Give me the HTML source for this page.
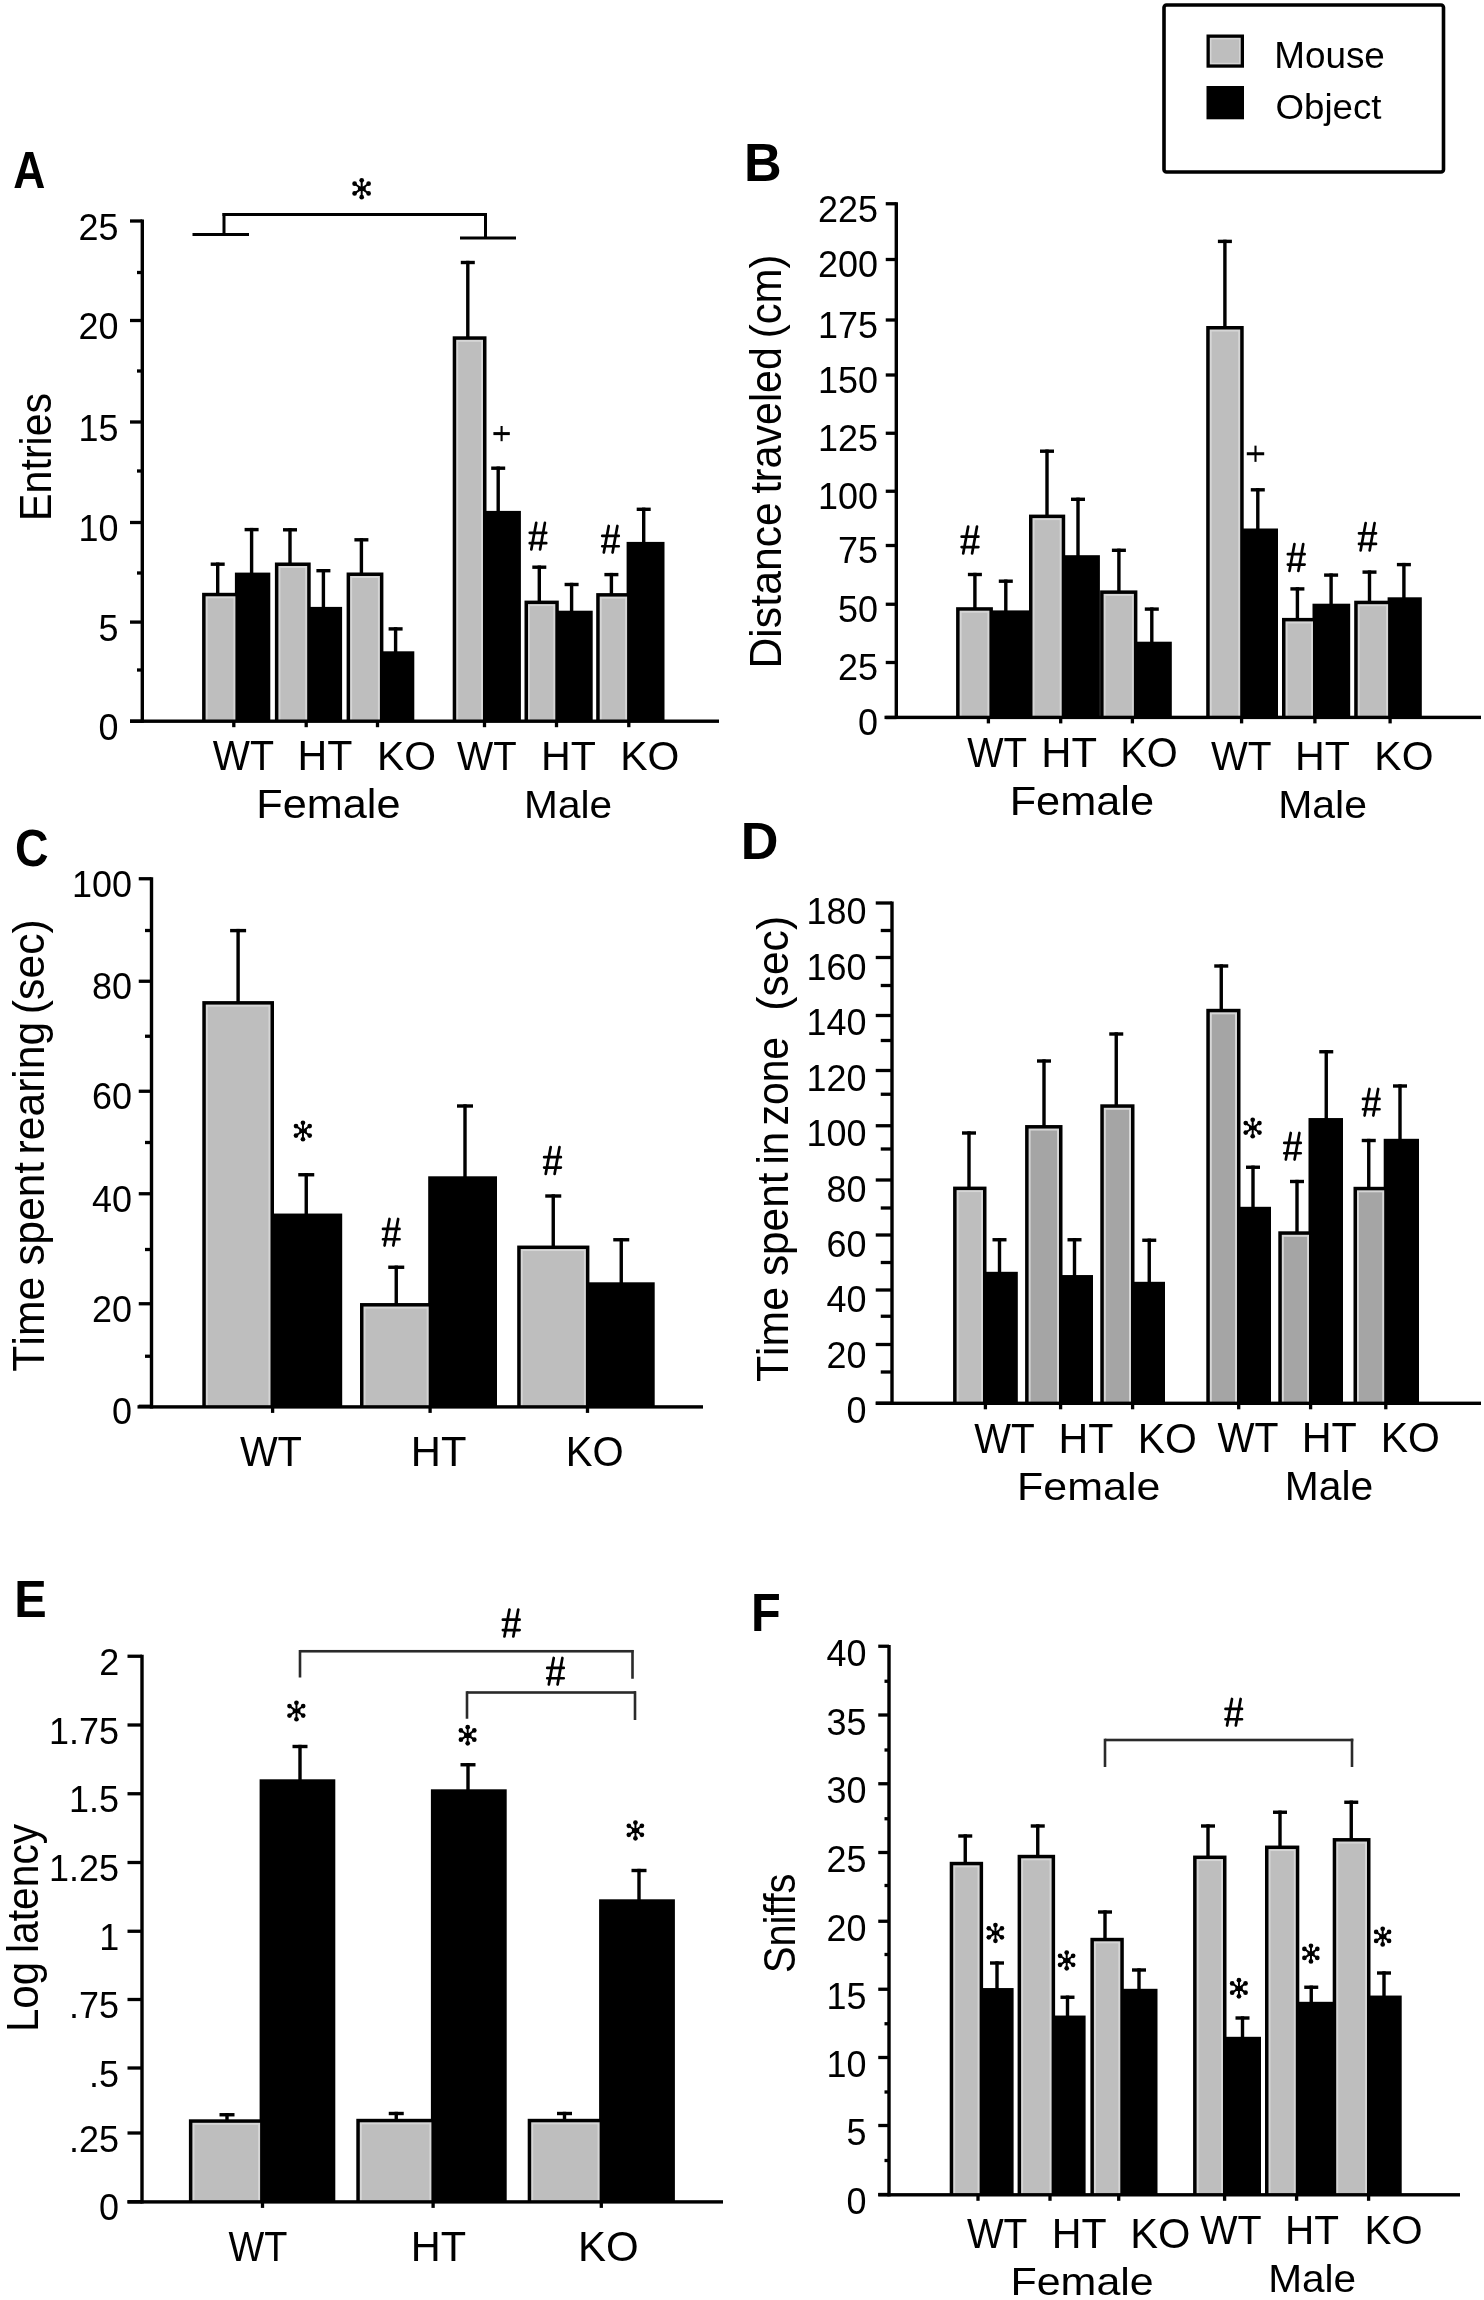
<!DOCTYPE html>
<html><head><meta charset="utf-8"><title>Figure</title>
<style>
html,body{margin:0;padding:0;background:#fff;}
svg{display:block;}
text{font-family:"Liberation Sans",sans-serif;font-kerning:none;white-space:pre;}
svg{filter:grayscale(1);}
</style></head>
<body>
<svg xmlns="http://www.w3.org/2000/svg" width="1484" height="2300" viewBox="0 0 1484 2300">
<rect x="0" y="0" width="1484" height="2300" fill="#fff"/>
<rect x="1164" y="5" width="279.5" height="167" rx="2.5" fill="none" stroke="#000" stroke-width="3.6"/>
<rect x="1206.50" y="34.50" width="37.50" height="33.20" fill="#000"/>
<rect x="1209.80" y="37.80" width="30.90" height="26.60" fill="#d6d6d6"/>
<rect x="1211.40" y="39.40" width="27.70" height="23.40" fill="#bebebe"/>
<rect x="1206.50" y="86.00" width="37.50" height="33.30" fill="#000"/>
<text transform="translate(1274.23 67.62) scale(0.9765 1)" font-size="37.76" font-weight="normal" fill="#000">Mouse</text>
<text transform="translate(1275.51 119.22) scale(1.0232 1)" font-size="35.85" font-weight="normal" fill="#000">Object</text>
<text transform="translate(13.29 187.80) scale(0.8442 1)" font-size="52.62" font-weight="bold" fill="#000">A</text>
<rect x="234.90" y="572.60" width="35.40" height="148.60" fill="#000"/>
<rect x="202.10" y="592.80" width="36.80" height="128.40" fill="#000"/>
<rect x="205.60" y="596.30" width="29.80" height="124.90" fill="#d6d6d6"/>
<rect x="207.60" y="598.30" width="25.80" height="122.90" fill="#bebebe"/>
<rect x="306.70" y="606.90" width="35.40" height="114.30" fill="#000"/>
<rect x="274.90" y="562.50" width="35.80" height="158.70" fill="#000"/>
<rect x="278.40" y="566.00" width="28.80" height="155.20" fill="#d6d6d6"/>
<rect x="280.40" y="568.00" width="24.80" height="153.20" fill="#bebebe"/>
<rect x="379.40" y="651.30" width="34.90" height="69.90" fill="#000"/>
<rect x="346.60" y="572.50" width="36.80" height="148.70" fill="#000"/>
<rect x="350.10" y="576.00" width="29.80" height="145.20" fill="#d6d6d6"/>
<rect x="352.10" y="578.00" width="25.80" height="143.20" fill="#bebebe"/>
<rect x="482.50" y="510.90" width="38.40" height="210.30" fill="#000"/>
<rect x="452.70" y="336.30" width="33.80" height="384.90" fill="#000"/>
<rect x="456.20" y="339.80" width="26.80" height="381.40" fill="#d6d6d6"/>
<rect x="458.20" y="341.80" width="22.80" height="379.40" fill="#bebebe"/>
<rect x="554.80" y="610.70" width="37.90" height="110.50" fill="#000"/>
<rect x="524.50" y="600.60" width="34.30" height="120.60" fill="#000"/>
<rect x="528.00" y="604.10" width="27.30" height="117.10" fill="#d6d6d6"/>
<rect x="530.00" y="606.10" width="23.30" height="115.10" fill="#bebebe"/>
<rect x="626.60" y="541.90" width="37.90" height="179.30" fill="#000"/>
<rect x="596.20" y="593.10" width="34.40" height="128.10" fill="#000"/>
<rect x="599.70" y="596.60" width="27.40" height="124.60" fill="#d6d6d6"/>
<rect x="601.70" y="598.60" width="23.40" height="122.60" fill="#bebebe"/>
<rect x="216.00" y="562.50" width="3.40" height="31.30" fill="#000"/>
<rect x="210.70" y="562.50" width="14.00" height="3.40" fill="#000"/>
<rect x="249.90" y="527.90" width="3.40" height="45.70" fill="#000"/>
<rect x="244.60" y="527.90" width="14.00" height="3.40" fill="#000"/>
<rect x="288.30" y="528.10" width="3.40" height="35.40" fill="#000"/>
<rect x="283.00" y="528.10" width="14.00" height="3.40" fill="#000"/>
<rect x="321.70" y="569.00" width="3.40" height="38.90" fill="#000"/>
<rect x="316.40" y="569.00" width="14.00" height="3.40" fill="#000"/>
<rect x="359.70" y="538.10" width="3.40" height="35.40" fill="#000"/>
<rect x="354.40" y="538.10" width="14.00" height="3.40" fill="#000"/>
<rect x="393.90" y="627.20" width="3.40" height="25.10" fill="#000"/>
<rect x="388.60" y="627.20" width="14.00" height="3.40" fill="#000"/>
<rect x="466.10" y="260.80" width="3.40" height="76.50" fill="#000"/>
<rect x="460.80" y="260.80" width="14.00" height="3.40" fill="#000"/>
<rect x="496.50" y="466.50" width="3.40" height="45.40" fill="#000"/>
<rect x="491.20" y="466.50" width="14.00" height="3.40" fill="#000"/>
<rect x="537.60" y="565.50" width="3.40" height="36.10" fill="#000"/>
<rect x="532.30" y="565.50" width="14.00" height="3.40" fill="#000"/>
<rect x="569.90" y="582.80" width="3.40" height="28.90" fill="#000"/>
<rect x="564.60" y="582.80" width="14.00" height="3.40" fill="#000"/>
<rect x="609.70" y="572.90" width="3.40" height="21.20" fill="#000"/>
<rect x="604.40" y="572.90" width="14.00" height="3.40" fill="#000"/>
<rect x="642.00" y="507.60" width="3.40" height="35.30" fill="#000"/>
<rect x="636.70" y="507.60" width="14.00" height="3.40" fill="#000"/>
<rect x="140.60" y="219.50" width="3.40" height="503.30" fill="#000"/>
<rect x="130.00" y="719.50" width="589.00" height="3.40" fill="#000"/>
<rect x="130.00" y="219.35" width="12.30" height="3.30" fill="#000"/>
<rect x="130.00" y="318.85" width="12.30" height="3.30" fill="#000"/>
<rect x="130.00" y="420.35" width="12.30" height="3.30" fill="#000"/>
<rect x="130.00" y="520.85" width="12.30" height="3.30" fill="#000"/>
<rect x="130.00" y="620.45" width="12.30" height="3.30" fill="#000"/>
<rect x="130.00" y="719.55" width="12.30" height="3.30" fill="#000"/>
<rect x="137.00" y="270.85" width="5.30" height="3.30" fill="#000"/>
<rect x="137.00" y="369.35" width="5.30" height="3.30" fill="#000"/>
<rect x="137.00" y="469.35" width="5.30" height="3.30" fill="#000"/>
<rect x="137.00" y="571.35" width="5.30" height="3.30" fill="#000"/>
<rect x="137.00" y="668.35" width="5.30" height="3.30" fill="#000"/>
<rect x="232.15" y="721.20" width="3.30" height="6.00" fill="#000"/>
<rect x="304.55" y="721.20" width="3.30" height="6.00" fill="#000"/>
<rect x="375.85" y="721.20" width="3.30" height="6.00" fill="#000"/>
<rect x="482.85" y="721.20" width="3.30" height="6.00" fill="#000"/>
<rect x="554.85" y="721.20" width="3.30" height="6.00" fill="#000"/>
<rect x="627.15" y="721.20" width="3.30" height="6.00" fill="#000"/>
<text transform="translate(78.52 239.75) scale(0.9700 1)" font-size="37.06">25</text>
<text transform="translate(78.41 339.25) scale(0.9700 1)" font-size="37.06">20</text>
<text transform="translate(78.52 440.75) scale(0.9700 1)" font-size="37.06">15</text>
<text transform="translate(78.41 541.25) scale(0.9700 1)" font-size="37.06">10</text>
<text transform="translate(98.51 640.75) scale(0.9700 1)" font-size="37.06">5</text>
<text transform="translate(98.41 739.75) scale(0.9700 1)" font-size="37.06">0</text>
<text transform="translate(212.73 769.90) scale(0.9351 1)" font-size="42.15" font-weight="normal" fill="#000">WT</text>
<text transform="translate(297.62 769.90) scale(0.9775 1)" font-size="42.15" font-weight="normal" fill="#000">HT</text>
<text transform="translate(376.94 769.90) scale(0.9851 1)" font-size="41.53" font-weight="normal" fill="#000">KO</text>
<text transform="translate(456.93 769.70) scale(0.9262 1)" font-size="41.43" font-weight="normal" fill="#000">WT</text>
<text transform="translate(541.02 769.70) scale(0.9947 1)" font-size="41.43" font-weight="normal" fill="#000">HT</text>
<text transform="translate(620.24 769.70) scale(1.0024 1)" font-size="40.82" font-weight="normal" fill="#000">KO</text>
<text transform="translate(256.25 818.10) scale(1.0493 1)" font-size="41.26" font-weight="normal" fill="#000">Female</text>
<text transform="translate(524.07 817.90) scale(1.0437 1)" font-size="38.92" font-weight="normal" fill="#000">Male</text>
<text transform="translate(51.00 520.88) rotate(-90) scale(0.9347 1)" font-size="44.04">Entries</text>
<rect x="192.50" y="233.00" width="56.50" height="3.00" fill="#000"/>
<rect x="222.50" y="213.00" width="3.00" height="21.50" fill="#000"/>
<rect x="222.50" y="213.00" width="264.50" height="3.00" fill="#000"/>
<rect x="484.00" y="213.00" width="3.00" height="25.00" fill="#000"/>
<rect x="460.00" y="236.50" width="56.00" height="3.00" fill="#000"/>
<path d="M361.70 188.70L361.70 180.30M361.70 188.70L361.70 197.20M361.70 188.70L354.60 183.70M361.70 188.70L368.60 183.70M361.70 188.70L354.60 193.40M361.70 188.70L368.60 193.40" stroke="#000" stroke-width="2.0" stroke-linecap="round" fill="none"/>
<circle cx="361.70" cy="180.30" r="2.35" fill="#000"/>
<circle cx="361.70" cy="197.20" r="2.35" fill="#000"/>
<circle cx="354.60" cy="183.70" r="2.35" fill="#000"/>
<circle cx="368.60" cy="183.70" r="2.35" fill="#000"/>
<circle cx="354.60" cy="193.40" r="2.35" fill="#000"/>
<circle cx="368.60" cy="193.40" r="2.35" fill="#000"/>
<rect x="357.90" y="186.60" width="7.80" height="4.00" fill="#000"/>
<rect x="493.40" y="432.10" width="16.40" height="3.00" fill="#000"/>
<rect x="500.55" y="426.00" width="2.10" height="15.20" fill="#000"/>
<path d="M536.24 522.87L531.31 549.43M544.89 522.87L540.06 549.43M529.75 532.87L546.25 532.87M529.75 543.14L546.25 543.14" stroke="#000" stroke-width="2.7" stroke-linecap="round" fill="none"/>
<path d="M608.74 525.97L603.81 552.53M617.39 525.97L612.56 552.53M602.25 535.97L618.75 535.97M602.25 546.24L618.75 546.24" stroke="#000" stroke-width="2.7" stroke-linecap="round" fill="none"/>
<text transform="translate(743.91 181.00) scale(0.9696 1)" font-size="53.78" font-weight="bold" fill="#000">B</text>
<rect x="988.90" y="610.40" width="40.10" height="107.00" fill="#000"/>
<rect x="956.10" y="607.20" width="36.80" height="110.20" fill="#000"/>
<rect x="959.60" y="610.70" width="29.80" height="106.70" fill="#d6d6d6"/>
<rect x="961.60" y="612.70" width="25.80" height="104.70" fill="#bebebe"/>
<rect x="1061.20" y="555.20" width="38.70" height="162.20" fill="#000"/>
<rect x="1029.00" y="514.60" width="36.20" height="202.80" fill="#000"/>
<rect x="1032.50" y="518.10" width="29.20" height="199.30" fill="#d6d6d6"/>
<rect x="1034.50" y="520.10" width="25.20" height="197.30" fill="#bebebe"/>
<rect x="1133.40" y="641.70" width="38.40" height="75.70" fill="#000"/>
<rect x="1100.10" y="590.40" width="37.30" height="127.00" fill="#000"/>
<rect x="1103.60" y="593.90" width="30.30" height="123.50" fill="#d6d6d6"/>
<rect x="1105.60" y="595.90" width="26.30" height="121.50" fill="#bebebe"/>
<rect x="1239.70" y="528.50" width="38.30" height="188.90" fill="#000"/>
<rect x="1206.20" y="326.00" width="37.50" height="391.40" fill="#000"/>
<rect x="1209.70" y="329.50" width="30.50" height="387.90" fill="#d6d6d6"/>
<rect x="1211.70" y="331.50" width="26.50" height="385.90" fill="#bebebe"/>
<rect x="1312.50" y="603.70" width="37.70" height="113.70" fill="#000"/>
<rect x="1282.00" y="617.90" width="34.50" height="99.50" fill="#000"/>
<rect x="1285.50" y="621.40" width="27.50" height="96.00" fill="#d6d6d6"/>
<rect x="1287.50" y="623.40" width="23.50" height="94.00" fill="#bebebe"/>
<rect x="1387.60" y="597.30" width="34.20" height="120.10" fill="#000"/>
<rect x="1354.20" y="600.70" width="37.40" height="116.70" fill="#000"/>
<rect x="1357.70" y="604.20" width="30.40" height="113.20" fill="#d6d6d6"/>
<rect x="1359.70" y="606.20" width="26.40" height="111.20" fill="#bebebe"/>
<rect x="973.20" y="572.80" width="3.40" height="35.40" fill="#000"/>
<rect x="967.90" y="572.80" width="14.00" height="3.40" fill="#000"/>
<rect x="1004.10" y="579.50" width="3.40" height="31.90" fill="#000"/>
<rect x="998.80" y="579.50" width="14.00" height="3.40" fill="#000"/>
<rect x="1045.30" y="449.50" width="3.40" height="66.10" fill="#000"/>
<rect x="1040.00" y="449.50" width="14.00" height="3.40" fill="#000"/>
<rect x="1076.30" y="497.60" width="3.40" height="58.60" fill="#000"/>
<rect x="1071.00" y="497.60" width="14.00" height="3.40" fill="#000"/>
<rect x="1117.20" y="548.60" width="3.40" height="42.80" fill="#000"/>
<rect x="1111.90" y="548.60" width="14.00" height="3.40" fill="#000"/>
<rect x="1150.10" y="607.40" width="3.40" height="35.30" fill="#000"/>
<rect x="1144.80" y="607.40" width="14.00" height="3.40" fill="#000"/>
<rect x="1223.20" y="239.70" width="3.40" height="87.30" fill="#000"/>
<rect x="1217.90" y="239.70" width="14.00" height="3.40" fill="#000"/>
<rect x="1256.10" y="488.10" width="3.40" height="41.40" fill="#000"/>
<rect x="1250.80" y="488.10" width="14.00" height="3.40" fill="#000"/>
<rect x="1295.70" y="587.20" width="3.40" height="31.70" fill="#000"/>
<rect x="1290.40" y="587.20" width="14.00" height="3.40" fill="#000"/>
<rect x="1329.40" y="573.40" width="3.40" height="31.30" fill="#000"/>
<rect x="1324.10" y="573.40" width="14.00" height="3.40" fill="#000"/>
<rect x="1367.80" y="570.40" width="3.40" height="31.30" fill="#000"/>
<rect x="1362.50" y="570.40" width="14.00" height="3.40" fill="#000"/>
<rect x="1402.20" y="562.90" width="3.40" height="35.40" fill="#000"/>
<rect x="1396.90" y="562.90" width="14.00" height="3.40" fill="#000"/>
<rect x="894.60" y="202.25" width="3.40" height="516.75" fill="#000"/>
<rect x="884.50" y="715.70" width="596.50" height="3.40" fill="#000"/>
<rect x="885.75" y="202.10" width="10.75" height="3.30" fill="#000"/>
<rect x="885.75" y="257.85" width="10.75" height="3.30" fill="#000"/>
<rect x="885.75" y="318.35" width="10.75" height="3.30" fill="#000"/>
<rect x="885.75" y="373.35" width="10.75" height="3.30" fill="#000"/>
<rect x="885.75" y="431.60" width="10.75" height="3.30" fill="#000"/>
<rect x="885.75" y="489.60" width="10.75" height="3.30" fill="#000"/>
<rect x="885.75" y="543.85" width="10.75" height="3.30" fill="#000"/>
<rect x="885.75" y="602.60" width="10.75" height="3.30" fill="#000"/>
<rect x="885.75" y="660.85" width="10.75" height="3.30" fill="#000"/>
<rect x="885.75" y="715.85" width="10.75" height="3.30" fill="#000"/>
<rect x="986.75" y="717.40" width="3.30" height="6.00" fill="#000"/>
<rect x="1059.05" y="717.40" width="3.30" height="6.00" fill="#000"/>
<rect x="1130.75" y="717.40" width="3.30" height="6.00" fill="#000"/>
<rect x="1239.95" y="717.40" width="3.30" height="6.00" fill="#000"/>
<rect x="1313.25" y="717.40" width="3.30" height="6.00" fill="#000"/>
<rect x="1388.45" y="717.40" width="3.30" height="6.00" fill="#000"/>
<text transform="translate(818.02 221.70) scale(0.9700 1)" font-size="37.06">225</text>
<text transform="translate(817.92 277.45) scale(0.9700 1)" font-size="37.06">200</text>
<text transform="translate(818.02 337.95) scale(0.9700 1)" font-size="37.06">175</text>
<text transform="translate(817.92 392.95) scale(0.9700 1)" font-size="37.06">150</text>
<text transform="translate(818.02 451.20) scale(0.9700 1)" font-size="37.06">125</text>
<text transform="translate(817.92 509.20) scale(0.9700 1)" font-size="37.06">100</text>
<text transform="translate(838.02 563.45) scale(0.9700 1)" font-size="37.06">75</text>
<text transform="translate(837.91 622.20) scale(0.9700 1)" font-size="37.06">50</text>
<text transform="translate(838.02 680.45) scale(0.9700 1)" font-size="37.06">25</text>
<text transform="translate(857.91 735.45) scale(0.9700 1)" font-size="37.06">0</text>
<text transform="translate(967.13 766.70) scale(0.8948 1)" font-size="43.02" font-weight="normal" fill="#000">WT</text>
<text transform="translate(1041.37 766.70) scale(0.9728 1)" font-size="43.02" font-weight="normal" fill="#000">HT</text>
<text transform="translate(1120.34 766.70) scale(0.9382 1)" font-size="42.39" font-weight="normal" fill="#000">KO</text>
<text transform="translate(1210.93 769.70) scale(0.9404 1)" font-size="41.43" font-weight="normal" fill="#000">WT</text>
<text transform="translate(1295.02 769.70) scale(0.9947 1)" font-size="41.43" font-weight="normal" fill="#000">HT</text>
<text transform="translate(1374.34 769.70) scale(1.0024 1)" font-size="40.82" font-weight="normal" fill="#000">KO</text>
<text transform="translate(1009.65 815.30) scale(1.0819 1)" font-size="40.02" font-weight="normal" fill="#000">Female</text>
<text transform="translate(1278.14 817.90) scale(1.0537 1)" font-size="38.92" font-weight="normal" fill="#000">Male</text>
<text transform="translate(781.10 668.51) rotate(-90) scale(0.9648 1)" font-size="44.33">Distance</text>
<text transform="translate(781.10 493.62) rotate(-90) scale(0.9287 1)" font-size="44.33">traveled</text>
<text transform="translate(781.10 338.30) rotate(-90) scale(0.9456 1)" font-size="44.33">(cm)</text>
<path d="M968.21 526.50L963.20 553.50M977.00 526.50L972.10 553.50M961.62 536.67L978.38 536.67M961.62 547.10L978.38 547.10" stroke="#000" stroke-width="2.7" stroke-linecap="round" fill="none"/>
<path d="M1294.46 544.00L1289.45 571.00M1303.25 544.00L1298.35 571.00M1287.87 554.17L1304.63 554.17M1287.87 564.60L1304.63 564.60" stroke="#000" stroke-width="2.7" stroke-linecap="round" fill="none"/>
<path d="M1365.68 523.04L1360.60 550.46M1374.61 523.04L1369.63 550.46M1358.99 533.37L1376.01 533.37M1358.99 543.97L1376.01 543.97" stroke="#000" stroke-width="2.7" stroke-linecap="round" fill="none"/>
<rect x="1246.80" y="452.25" width="17.40" height="3.00" fill="#000"/>
<rect x="1254.45" y="445.65" width="2.10" height="16.20" fill="#000"/>
<text transform="translate(14.89 866.00) scale(0.9069 1)" font-size="51.27" font-weight="bold" fill="#000">C</text>
<rect x="270.00" y="1213.55" width="72.20" height="193.35" fill="#000"/>
<rect x="202.30" y="1001.10" width="71.70" height="405.80" fill="#000"/>
<rect x="205.80" y="1004.60" width="64.70" height="402.30" fill="#d6d6d6"/>
<rect x="207.80" y="1006.60" width="60.70" height="400.30" fill="#bebebe"/>
<rect x="428.20" y="1176.30" width="68.80" height="230.60" fill="#000"/>
<rect x="360.00" y="1303.05" width="72.20" height="103.85" fill="#000"/>
<rect x="363.50" y="1306.55" width="65.20" height="100.35" fill="#d6d6d6"/>
<rect x="365.50" y="1308.55" width="61.20" height="98.35" fill="#bebebe"/>
<rect x="585.40" y="1282.30" width="69.30" height="124.60" fill="#000"/>
<rect x="517.20" y="1245.55" width="72.20" height="161.35" fill="#000"/>
<rect x="520.70" y="1249.05" width="65.20" height="157.85" fill="#d6d6d6"/>
<rect x="522.70" y="1251.05" width="61.20" height="155.85" fill="#bebebe"/>
<rect x="236.40" y="928.90" width="3.40" height="73.20" fill="#000"/>
<rect x="230.10" y="928.90" width="16.00" height="3.40" fill="#000"/>
<rect x="304.55" y="1173.05" width="3.40" height="41.50" fill="#000"/>
<rect x="298.25" y="1173.05" width="16.00" height="3.40" fill="#000"/>
<rect x="394.55" y="1265.55" width="3.40" height="38.50" fill="#000"/>
<rect x="388.25" y="1265.55" width="16.00" height="3.40" fill="#000"/>
<rect x="463.30" y="1104.30" width="3.40" height="73.00" fill="#000"/>
<rect x="457.00" y="1104.30" width="16.00" height="3.40" fill="#000"/>
<rect x="551.55" y="1194.30" width="3.40" height="52.25" fill="#000"/>
<rect x="545.25" y="1194.30" width="16.00" height="3.40" fill="#000"/>
<rect x="619.55" y="1238.05" width="3.40" height="45.25" fill="#000"/>
<rect x="613.25" y="1238.05" width="16.00" height="3.40" fill="#000"/>
<rect x="149.80" y="877.25" width="3.40" height="531.25" fill="#000"/>
<rect x="137.50" y="1405.20" width="565.50" height="3.40" fill="#000"/>
<rect x="138.75" y="877.10" width="12.75" height="3.30" fill="#000"/>
<rect x="138.75" y="979.60" width="12.75" height="3.30" fill="#000"/>
<rect x="138.75" y="1089.60" width="12.75" height="3.30" fill="#000"/>
<rect x="138.75" y="1192.10" width="12.75" height="3.30" fill="#000"/>
<rect x="138.75" y="1302.10" width="12.75" height="3.30" fill="#000"/>
<rect x="138.75" y="1404.60" width="12.75" height="3.30" fill="#000"/>
<rect x="145.00" y="928.85" width="6.50" height="3.30" fill="#000"/>
<rect x="145.00" y="1034.60" width="6.50" height="3.30" fill="#000"/>
<rect x="145.00" y="1140.85" width="6.50" height="3.30" fill="#000"/>
<rect x="145.00" y="1247.85" width="6.50" height="3.30" fill="#000"/>
<rect x="145.00" y="1354.60" width="6.50" height="3.30" fill="#000"/>
<rect x="270.95" y="1406.90" width="3.30" height="6.00" fill="#000"/>
<rect x="428.45" y="1406.90" width="3.30" height="6.00" fill="#000"/>
<rect x="585.85" y="1406.90" width="3.30" height="6.00" fill="#000"/>
<text transform="translate(71.92 896.50) scale(0.9700 1)" font-size="37.06">100</text>
<text transform="translate(91.91 999.00) scale(0.9700 1)" font-size="37.06">80</text>
<text transform="translate(91.91 1109.00) scale(0.9700 1)" font-size="37.06">60</text>
<text transform="translate(91.91 1211.50) scale(0.9700 1)" font-size="37.06">40</text>
<text transform="translate(91.91 1321.50) scale(0.9700 1)" font-size="37.06">20</text>
<text transform="translate(111.91 1424.00) scale(0.9700 1)" font-size="37.06">0</text>
<text transform="translate(239.92 1466.00) scale(0.9221 1)" font-size="43.31" font-weight="normal" fill="#000">WT</text>
<text transform="translate(410.87 1466.00) scale(0.9644 1)" font-size="43.31" font-weight="normal" fill="#000">HT</text>
<text transform="translate(565.71 1466.00) scale(0.9391 1)" font-size="42.68" font-weight="normal" fill="#000">KO</text>
<text transform="translate(44.00 1371.66) rotate(-90) scale(0.9597 1)" font-size="44.48">Time</text>
<text transform="translate(44.00 1265.58) rotate(-90) scale(0.9521 1)" font-size="44.48">spent</text>
<text transform="translate(44.00 1154.43) rotate(-90) scale(0.9583 1)" font-size="44.48">rearing</text>
<text transform="translate(44.00 1014.15) rotate(-90) scale(0.9601 1)" font-size="44.48">(sec)</text>
<path d="M302.95 1130.95L302.95 1122.74M302.95 1130.95L302.95 1139.26M302.95 1130.95L296.01 1126.06M302.95 1130.95L309.69 1126.06M302.95 1130.95L296.01 1135.54M302.95 1130.95L309.69 1135.54" stroke="#000" stroke-width="2.0" stroke-linecap="round" fill="none"/>
<circle cx="302.95" cy="1122.74" r="2.35" fill="#000"/>
<circle cx="302.95" cy="1139.26" r="2.35" fill="#000"/>
<circle cx="296.01" cy="1126.06" r="2.35" fill="#000"/>
<circle cx="309.69" cy="1126.06" r="2.35" fill="#000"/>
<circle cx="296.01" cy="1135.54" r="2.35" fill="#000"/>
<circle cx="309.69" cy="1135.54" r="2.35" fill="#000"/>
<rect x="299.24" y="1128.90" width="7.62" height="3.91" fill="#000"/>
<path d="M389.49 1218.97L384.56 1245.53M398.14 1218.97L393.31 1245.53M383.00 1228.97L399.50 1228.97M383.00 1239.24L399.50 1239.24" stroke="#000" stroke-width="2.7" stroke-linecap="round" fill="none"/>
<path d="M550.71 1147.00L545.70 1174.00M559.50 1147.00L554.60 1174.00M544.12 1157.17L560.88 1157.17M544.12 1167.60L560.88 1167.60" stroke="#000" stroke-width="2.7" stroke-linecap="round" fill="none"/>
<text transform="translate(740.71 859.40) scale(0.9917 1)" font-size="52.62" font-weight="bold" fill="#000">D</text>
<rect x="982.50" y="1271.80" width="35.30" height="131.50" fill="#000"/>
<rect x="953.10" y="1186.60" width="33.40" height="216.70" fill="#000"/>
<rect x="956.60" y="1190.10" width="26.40" height="213.20" fill="#d6d6d6"/>
<rect x="958.60" y="1192.10" width="22.40" height="211.20" fill="#bebebe"/>
<rect x="1058.50" y="1275.05" width="34.50" height="128.25" fill="#000"/>
<rect x="1025.10" y="1125.05" width="37.40" height="278.25" fill="#000"/>
<rect x="1028.60" y="1128.55" width="30.40" height="274.75" fill="#d6d6d6"/>
<rect x="1030.60" y="1130.55" width="26.40" height="272.75" fill="#a5a5a5"/>
<rect x="1130.50" y="1281.80" width="34.50" height="121.50" fill="#000"/>
<rect x="1100.30" y="1104.30" width="34.20" height="299.00" fill="#000"/>
<rect x="1103.80" y="1107.80" width="27.20" height="295.50" fill="#d6d6d6"/>
<rect x="1105.80" y="1109.80" width="23.20" height="293.50" fill="#a5a5a5"/>
<rect x="1236.50" y="1206.80" width="34.50" height="196.50" fill="#000"/>
<rect x="1206.30" y="1008.80" width="34.20" height="394.50" fill="#000"/>
<rect x="1209.80" y="1012.30" width="27.20" height="391.00" fill="#d6d6d6"/>
<rect x="1211.80" y="1014.30" width="23.20" height="389.00" fill="#a5a5a5"/>
<rect x="1308.50" y="1118.05" width="34.50" height="285.25" fill="#000"/>
<rect x="1278.30" y="1231.30" width="34.20" height="172.00" fill="#000"/>
<rect x="1281.80" y="1234.80" width="27.20" height="168.50" fill="#d6d6d6"/>
<rect x="1283.80" y="1236.80" width="23.20" height="166.50" fill="#a5a5a5"/>
<rect x="1383.70" y="1138.80" width="35.30" height="264.50" fill="#000"/>
<rect x="1353.50" y="1186.80" width="34.20" height="216.50" fill="#000"/>
<rect x="1357.00" y="1190.30" width="27.20" height="213.00" fill="#d6d6d6"/>
<rect x="1359.00" y="1192.30" width="23.20" height="211.00" fill="#a5a5a5"/>
<rect x="967.30" y="1131.30" width="3.40" height="56.30" fill="#000"/>
<rect x="962.00" y="1131.30" width="14.00" height="3.40" fill="#000"/>
<rect x="997.80" y="1238.05" width="3.40" height="34.75" fill="#000"/>
<rect x="992.50" y="1238.05" width="14.00" height="3.40" fill="#000"/>
<rect x="1042.30" y="1059.30" width="3.40" height="66.75" fill="#000"/>
<rect x="1037.00" y="1059.30" width="14.00" height="3.40" fill="#000"/>
<rect x="1072.80" y="1238.05" width="3.40" height="38.00" fill="#000"/>
<rect x="1067.50" y="1238.05" width="14.00" height="3.40" fill="#000"/>
<rect x="1114.55" y="1032.30" width="3.40" height="73.00" fill="#000"/>
<rect x="1109.25" y="1032.30" width="14.00" height="3.40" fill="#000"/>
<rect x="1147.55" y="1238.55" width="3.40" height="44.25" fill="#000"/>
<rect x="1142.25" y="1238.55" width="14.00" height="3.40" fill="#000"/>
<rect x="1219.55" y="964.30" width="3.40" height="45.50" fill="#000"/>
<rect x="1214.25" y="964.30" width="14.00" height="3.40" fill="#000"/>
<rect x="1251.30" y="1165.55" width="3.40" height="42.25" fill="#000"/>
<rect x="1246.00" y="1165.55" width="14.00" height="3.40" fill="#000"/>
<rect x="1295.30" y="1179.80" width="3.40" height="52.50" fill="#000"/>
<rect x="1290.00" y="1179.80" width="14.00" height="3.40" fill="#000"/>
<rect x="1324.55" y="1050.05" width="3.40" height="69.00" fill="#000"/>
<rect x="1319.25" y="1050.05" width="14.00" height="3.40" fill="#000"/>
<rect x="1367.05" y="1138.80" width="3.40" height="49.00" fill="#000"/>
<rect x="1361.75" y="1138.80" width="14.00" height="3.40" fill="#000"/>
<rect x="1398.30" y="1084.30" width="3.40" height="55.50" fill="#000"/>
<rect x="1393.00" y="1084.30" width="14.00" height="3.40" fill="#000"/>
<rect x="890.30" y="901.50" width="3.40" height="503.40" fill="#000"/>
<rect x="875.75" y="1401.60" width="605.25" height="3.40" fill="#000"/>
<rect x="875.75" y="901.35" width="16.25" height="3.30" fill="#000"/>
<rect x="875.75" y="955.85" width="16.25" height="3.30" fill="#000"/>
<rect x="875.75" y="1013.85" width="16.25" height="3.30" fill="#000"/>
<rect x="875.75" y="1068.85" width="16.25" height="3.30" fill="#000"/>
<rect x="875.75" y="1124.10" width="16.25" height="3.30" fill="#000"/>
<rect x="875.75" y="1178.35" width="16.25" height="3.30" fill="#000"/>
<rect x="875.75" y="1233.35" width="16.25" height="3.30" fill="#000"/>
<rect x="875.75" y="1288.35" width="16.25" height="3.30" fill="#000"/>
<rect x="875.75" y="1342.85" width="16.25" height="3.30" fill="#000"/>
<rect x="875.75" y="1401.60" width="16.25" height="3.30" fill="#000"/>
<rect x="880.75" y="928.85" width="11.25" height="3.30" fill="#000"/>
<rect x="880.75" y="983.85" width="11.25" height="3.30" fill="#000"/>
<rect x="880.75" y="1038.85" width="11.25" height="3.30" fill="#000"/>
<rect x="880.75" y="1092.60" width="11.25" height="3.30" fill="#000"/>
<rect x="880.75" y="1147.35" width="11.25" height="3.30" fill="#000"/>
<rect x="880.75" y="1206.35" width="11.25" height="3.30" fill="#000"/>
<rect x="880.75" y="1260.85" width="11.25" height="3.30" fill="#000"/>
<rect x="880.75" y="1314.60" width="11.25" height="3.30" fill="#000"/>
<rect x="880.75" y="1370.35" width="11.25" height="3.30" fill="#000"/>
<rect x="983.75" y="1403.30" width="3.30" height="6.00" fill="#000"/>
<rect x="1058.95" y="1403.30" width="3.30" height="6.00" fill="#000"/>
<rect x="1130.95" y="1403.30" width="3.30" height="6.00" fill="#000"/>
<rect x="1237.05" y="1403.30" width="3.30" height="6.00" fill="#000"/>
<rect x="1308.95" y="1403.30" width="3.30" height="6.00" fill="#000"/>
<rect x="1384.15" y="1403.30" width="3.30" height="6.00" fill="#000"/>
<text transform="translate(806.42 924.25) scale(0.9700 1)" font-size="37.06">180</text>
<text transform="translate(806.42 979.71) scale(0.9700 1)" font-size="37.06">160</text>
<text transform="translate(806.42 1035.17) scale(0.9700 1)" font-size="37.06">140</text>
<text transform="translate(806.42 1090.63) scale(0.9700 1)" font-size="37.06">120</text>
<text transform="translate(806.42 1146.09) scale(0.9700 1)" font-size="37.06">100</text>
<text transform="translate(826.41 1201.55) scale(0.9700 1)" font-size="37.06">80</text>
<text transform="translate(826.41 1257.01) scale(0.9700 1)" font-size="37.06">60</text>
<text transform="translate(826.41 1312.47) scale(0.9700 1)" font-size="37.06">40</text>
<text transform="translate(826.41 1367.93) scale(0.9700 1)" font-size="37.06">20</text>
<text transform="translate(846.41 1423.39) scale(0.9700 1)" font-size="37.06">0</text>
<text transform="translate(974.33 1452.80) scale(0.8979 1)" font-size="43.31" font-weight="normal" fill="#000">WT</text>
<text transform="translate(1058.42 1452.80) scale(0.9513 1)" font-size="43.31" font-weight="normal" fill="#000">HT</text>
<text transform="translate(1137.74 1452.80) scale(0.9587 1)" font-size="42.68" font-weight="normal" fill="#000">KO</text>
<text transform="translate(1217.43 1452.30) scale(0.9131 1)" font-size="43.02" font-weight="normal" fill="#000">WT</text>
<text transform="translate(1301.71 1452.30) scale(0.9615 1)" font-size="43.02" font-weight="normal" fill="#000">HT</text>
<text transform="translate(1380.84 1452.30) scale(0.9651 1)" font-size="42.39" font-weight="normal" fill="#000">KO</text>
<text transform="translate(1017.07 1500.00) scale(1.0929 1)" font-size="39.33" font-weight="normal" fill="#000">Female</text>
<text transform="translate(1284.75 1500.30) scale(1.0269 1)" font-size="39.75" font-weight="normal" fill="#000">Male</text>
<text transform="translate(787.60 1382.06) rotate(-90) scale(0.9660 1)" font-size="44.33">Time</text>
<text transform="translate(787.60 1276.08) rotate(-90) scale(0.9552 1)" font-size="44.33">spent</text>
<text transform="translate(787.60 1164.51) rotate(-90) scale(0.9491 1)" font-size="44.33">in</text>
<text transform="translate(787.60 1125.46) rotate(-90) scale(0.9213 1)" font-size="44.33">zone</text>
<text transform="translate(787.60 1010.65) rotate(-90) scale(0.9622 1)" font-size="44.33">(sec)</text>
<path d="M1252.70 1127.95L1252.70 1119.74M1252.70 1127.95L1252.70 1136.26M1252.70 1127.95L1245.76 1123.06M1252.70 1127.95L1259.44 1123.06M1252.70 1127.95L1245.76 1132.54M1252.70 1127.95L1259.44 1132.54" stroke="#000" stroke-width="2.0" stroke-linecap="round" fill="none"/>
<circle cx="1252.70" cy="1119.74" r="2.35" fill="#000"/>
<circle cx="1252.70" cy="1136.26" r="2.35" fill="#000"/>
<circle cx="1245.76" cy="1123.06" r="2.35" fill="#000"/>
<circle cx="1259.44" cy="1123.06" r="2.35" fill="#000"/>
<circle cx="1245.76" cy="1132.54" r="2.35" fill="#000"/>
<circle cx="1259.44" cy="1132.54" r="2.35" fill="#000"/>
<rect x="1248.99" y="1125.90" width="7.62" height="3.91" fill="#000"/>
<path d="M1290.74 1132.97L1285.81 1159.53M1299.39 1132.97L1294.56 1159.53M1284.25 1142.97L1300.75 1142.97M1284.25 1153.24L1300.75 1153.24" stroke="#000" stroke-width="2.7" stroke-linecap="round" fill="none"/>
<path d="M1369.49 1088.97L1364.56 1115.53M1378.14 1088.97L1373.31 1115.53M1363.00 1098.97L1379.50 1098.97M1363.00 1109.24L1379.50 1109.24" stroke="#000" stroke-width="2.7" stroke-linecap="round" fill="none"/>
<text transform="translate(14.34 1616.80) scale(0.9248 1)" font-size="52.62" font-weight="bold" fill="#000">E</text>
<rect x="259.60" y="1779.30" width="75.70" height="422.60" fill="#000"/>
<rect x="188.90" y="2119.30" width="74.70" height="82.60" fill="#000"/>
<rect x="192.40" y="2122.80" width="67.70" height="79.10" fill="#d6d6d6"/>
<rect x="194.40" y="2124.80" width="63.70" height="77.10" fill="#bebebe"/>
<rect x="430.90" y="1789.30" width="75.80" height="412.60" fill="#000"/>
<rect x="356.30" y="2118.80" width="78.60" height="83.10" fill="#000"/>
<rect x="359.80" y="2122.30" width="71.60" height="79.60" fill="#d6d6d6"/>
<rect x="361.80" y="2124.30" width="67.60" height="77.60" fill="#bebebe"/>
<rect x="599.10" y="1899.30" width="75.80" height="302.60" fill="#000"/>
<rect x="527.70" y="2118.80" width="75.40" height="83.10" fill="#000"/>
<rect x="531.20" y="2122.30" width="68.40" height="79.60" fill="#d6d6d6"/>
<rect x="533.20" y="2124.30" width="64.40" height="77.60" fill="#bebebe"/>
<rect x="225.30" y="2113.05" width="3.40" height="7.25" fill="#000"/>
<rect x="219.50" y="2113.05" width="15.00" height="3.40" fill="#000"/>
<rect x="298.30" y="1744.80" width="3.40" height="35.50" fill="#000"/>
<rect x="292.50" y="1744.80" width="15.00" height="3.40" fill="#000"/>
<rect x="394.55" y="2111.80" width="3.40" height="8.00" fill="#000"/>
<rect x="388.75" y="2111.80" width="15.00" height="3.40" fill="#000"/>
<rect x="466.30" y="1763.05" width="3.40" height="27.25" fill="#000"/>
<rect x="460.50" y="1763.05" width="15.00" height="3.40" fill="#000"/>
<rect x="562.80" y="2111.80" width="3.40" height="8.00" fill="#000"/>
<rect x="557.00" y="2111.80" width="15.00" height="3.40" fill="#000"/>
<rect x="637.30" y="1868.80" width="3.40" height="31.50" fill="#000"/>
<rect x="631.50" y="1868.80" width="15.00" height="3.40" fill="#000"/>
<rect x="140.30" y="1654.75" width="3.40" height="548.75" fill="#000"/>
<rect x="127.50" y="2200.20" width="595.50" height="3.40" fill="#000"/>
<rect x="127.50" y="1654.60" width="14.50" height="3.30" fill="#000"/>
<rect x="127.50" y="1723.35" width="14.50" height="3.30" fill="#000"/>
<rect x="127.50" y="1792.10" width="14.50" height="3.30" fill="#000"/>
<rect x="127.50" y="1860.85" width="14.50" height="3.30" fill="#000"/>
<rect x="127.50" y="1929.60" width="14.50" height="3.30" fill="#000"/>
<rect x="127.50" y="1997.85" width="14.50" height="3.30" fill="#000"/>
<rect x="127.50" y="2066.35" width="14.50" height="3.30" fill="#000"/>
<rect x="127.50" y="2131.35" width="14.50" height="3.30" fill="#000"/>
<rect x="127.50" y="2200.10" width="14.50" height="3.30" fill="#000"/>
<rect x="260.85" y="2201.90" width="3.30" height="6.00" fill="#000"/>
<rect x="431.45" y="2201.90" width="3.30" height="6.00" fill="#000"/>
<rect x="599.65" y="2201.90" width="3.30" height="6.00" fill="#000"/>
<text transform="translate(99.31 1674.80) scale(0.9700 1)" font-size="37.06">2</text>
<text transform="translate(49.04 1743.55) scale(0.9700 1)" font-size="37.06">1.75</text>
<text transform="translate(69.03 1812.30) scale(0.9700 1)" font-size="37.06">1.5</text>
<text transform="translate(49.04 1881.05) scale(0.9700 1)" font-size="37.06">1.25</text>
<text transform="translate(99.26 1949.80) scale(0.9700 1)" font-size="37.06">1</text>
<text transform="translate(69.03 2018.05) scale(0.9700 1)" font-size="37.06">.75</text>
<text transform="translate(89.03 2086.55) scale(0.9700 1)" font-size="37.06">.5</text>
<text transform="translate(69.03 2151.55) scale(0.9700 1)" font-size="37.06">.25</text>
<text transform="translate(98.91 2220.30) scale(0.9700 1)" font-size="37.06">0</text>
<text transform="translate(228.53 2261.30) scale(0.8901 1)" font-size="42.59" font-weight="normal" fill="#000">WT</text>
<text transform="translate(410.79 2261.30) scale(0.9752 1)" font-size="42.59" font-weight="normal" fill="#000">HT</text>
<text transform="translate(578.05 2261.30) scale(1.0022 1)" font-size="41.96" font-weight="normal" fill="#000">KO</text>
<text transform="translate(37.50 2032.05) rotate(-90) scale(0.9485 1)" font-size="44.33">Log</text>
<text transform="translate(37.50 1952.95) rotate(-90) scale(0.9193 1)" font-size="44.33">latency</text>
<path d="M296.45 1710.95L296.45 1702.74M296.45 1710.95L296.45 1719.26M296.45 1710.95L289.51 1706.06M296.45 1710.95L303.19 1706.06M296.45 1710.95L289.51 1715.54M296.45 1710.95L303.19 1715.54" stroke="#000" stroke-width="2.0" stroke-linecap="round" fill="none"/>
<circle cx="296.45" cy="1702.74" r="2.35" fill="#000"/>
<circle cx="296.45" cy="1719.26" r="2.35" fill="#000"/>
<circle cx="289.51" cy="1706.06" r="2.35" fill="#000"/>
<circle cx="303.19" cy="1706.06" r="2.35" fill="#000"/>
<circle cx="289.51" cy="1715.54" r="2.35" fill="#000"/>
<circle cx="303.19" cy="1715.54" r="2.35" fill="#000"/>
<rect x="292.74" y="1708.90" width="7.62" height="3.91" fill="#000"/>
<path d="M467.70 1735.20L467.70 1727.18M467.70 1735.20L467.70 1743.31M467.70 1735.20L460.92 1730.43M467.70 1735.20L474.29 1730.43M467.70 1735.20L460.92 1739.69M467.70 1735.20L474.29 1739.69" stroke="#000" stroke-width="2.0" stroke-linecap="round" fill="none"/>
<circle cx="467.70" cy="1727.18" r="2.35" fill="#000"/>
<circle cx="467.70" cy="1743.31" r="2.35" fill="#000"/>
<circle cx="460.92" cy="1730.43" r="2.35" fill="#000"/>
<circle cx="474.29" cy="1730.43" r="2.35" fill="#000"/>
<circle cx="460.92" cy="1739.69" r="2.35" fill="#000"/>
<circle cx="474.29" cy="1739.69" r="2.35" fill="#000"/>
<rect x="464.07" y="1733.20" width="7.45" height="3.82" fill="#000"/>
<path d="M635.45 1830.45L635.45 1822.62M635.45 1830.45L635.45 1838.37M635.45 1830.45L628.83 1825.79M635.45 1830.45L641.88 1825.79M635.45 1830.45L628.83 1834.83M635.45 1830.45L641.88 1834.83" stroke="#000" stroke-width="2.0" stroke-linecap="round" fill="none"/>
<circle cx="635.45" cy="1822.62" r="2.35" fill="#000"/>
<circle cx="635.45" cy="1838.37" r="2.35" fill="#000"/>
<circle cx="628.83" cy="1825.79" r="2.35" fill="#000"/>
<circle cx="641.88" cy="1825.79" r="2.35" fill="#000"/>
<circle cx="628.83" cy="1834.83" r="2.35" fill="#000"/>
<circle cx="641.88" cy="1834.83" r="2.35" fill="#000"/>
<rect x="631.91" y="1828.49" width="7.27" height="3.73" fill="#000"/>
<rect x="300.00" y="1649.95" width="333.50" height="2.60" fill="#2a2a2a"/>
<rect x="298.70" y="1650.00" width="2.60" height="27.50" fill="#2a2a2a"/>
<rect x="631.20" y="1650.00" width="2.60" height="28.75" fill="#2a2a2a"/>
<rect x="467.00" y="1691.20" width="169.00" height="2.60" fill="#2a2a2a"/>
<rect x="465.70" y="1691.20" width="2.60" height="27.55" fill="#2a2a2a"/>
<rect x="633.70" y="1691.20" width="2.60" height="28.80" fill="#2a2a2a"/>
<path d="M509.46 1609.50L504.45 1636.50M518.25 1609.50L513.35 1636.50M502.87 1619.67L519.63 1619.67M502.87 1630.10L519.63 1630.10" stroke="#000" stroke-width="2.7" stroke-linecap="round" fill="none"/>
<path d="M553.74 1657.97L548.81 1684.53M562.39 1657.97L557.56 1684.53M547.25 1667.97L563.75 1667.97M547.25 1678.24L563.75 1678.24" stroke="#000" stroke-width="2.7" stroke-linecap="round" fill="none"/>
<text transform="translate(750.94 1631.00) scale(0.9152 1)" font-size="53.20" font-weight="bold" fill="#000">F</text>
<rect x="979.10" y="1988.05" width="34.50" height="206.75" fill="#000"/>
<rect x="949.70" y="1861.80" width="33.40" height="333.00" fill="#000"/>
<rect x="953.20" y="1865.30" width="26.40" height="329.50" fill="#d6d6d6"/>
<rect x="955.20" y="1867.30" width="22.40" height="327.50" fill="#bebebe"/>
<rect x="1051.10" y="2015.55" width="34.50" height="179.25" fill="#000"/>
<rect x="1017.60" y="1854.80" width="37.50" height="340.00" fill="#000"/>
<rect x="1021.10" y="1858.30" width="30.50" height="336.50" fill="#d6d6d6"/>
<rect x="1023.10" y="1860.30" width="26.50" height="334.50" fill="#bebebe"/>
<rect x="1119.80" y="1988.80" width="37.70" height="206.00" fill="#000"/>
<rect x="1090.40" y="1937.80" width="33.40" height="257.00" fill="#000"/>
<rect x="1093.90" y="1941.30" width="26.40" height="253.50" fill="#d6d6d6"/>
<rect x="1095.90" y="1943.30" width="22.40" height="251.50" fill="#bebebe"/>
<rect x="1222.50" y="2036.80" width="38.50" height="158.00" fill="#000"/>
<rect x="1193.10" y="1855.55" width="33.40" height="339.25" fill="#000"/>
<rect x="1196.60" y="1859.05" width="26.40" height="335.75" fill="#d6d6d6"/>
<rect x="1198.60" y="1861.05" width="22.40" height="333.75" fill="#bebebe"/>
<rect x="1295.30" y="2001.80" width="37.70" height="193.00" fill="#000"/>
<rect x="1265.00" y="1845.55" width="34.30" height="349.25" fill="#000"/>
<rect x="1268.50" y="1849.05" width="27.30" height="345.75" fill="#d6d6d6"/>
<rect x="1270.50" y="1851.05" width="23.30" height="343.75" fill="#bebebe"/>
<rect x="1366.50" y="1995.55" width="35.20" height="199.25" fill="#000"/>
<rect x="1332.70" y="1838.05" width="37.80" height="356.75" fill="#000"/>
<rect x="1336.20" y="1841.55" width="30.80" height="353.25" fill="#d6d6d6"/>
<rect x="1338.20" y="1843.55" width="26.80" height="351.25" fill="#bebebe"/>
<rect x="963.55" y="1834.30" width="3.40" height="28.50" fill="#000"/>
<rect x="958.25" y="1834.30" width="14.00" height="3.40" fill="#000"/>
<rect x="995.30" y="1961.30" width="3.40" height="27.75" fill="#000"/>
<rect x="990.00" y="1961.30" width="14.00" height="3.40" fill="#000"/>
<rect x="1036.05" y="1824.30" width="3.40" height="31.50" fill="#000"/>
<rect x="1030.75" y="1824.30" width="14.00" height="3.40" fill="#000"/>
<rect x="1065.80" y="1995.55" width="3.40" height="21.00" fill="#000"/>
<rect x="1060.50" y="1995.55" width="14.00" height="3.40" fill="#000"/>
<rect x="1103.30" y="1910.30" width="3.40" height="28.50" fill="#000"/>
<rect x="1098.00" y="1910.30" width="14.00" height="3.40" fill="#000"/>
<rect x="1137.30" y="1968.30" width="3.40" height="21.50" fill="#000"/>
<rect x="1132.00" y="1968.30" width="14.00" height="3.40" fill="#000"/>
<rect x="1206.30" y="1824.30" width="3.40" height="32.25" fill="#000"/>
<rect x="1201.00" y="1824.30" width="14.00" height="3.40" fill="#000"/>
<rect x="1240.80" y="2016.30" width="3.40" height="21.50" fill="#000"/>
<rect x="1235.50" y="2016.30" width="14.00" height="3.40" fill="#000"/>
<rect x="1278.30" y="1810.55" width="3.40" height="36.00" fill="#000"/>
<rect x="1273.00" y="1810.55" width="14.00" height="3.40" fill="#000"/>
<rect x="1309.55" y="1985.55" width="3.40" height="17.25" fill="#000"/>
<rect x="1304.25" y="1985.55" width="14.00" height="3.40" fill="#000"/>
<rect x="1349.55" y="1800.55" width="3.40" height="38.50" fill="#000"/>
<rect x="1344.25" y="1800.55" width="14.00" height="3.40" fill="#000"/>
<rect x="1382.30" y="1971.30" width="3.40" height="25.25" fill="#000"/>
<rect x="1377.00" y="1971.30" width="14.00" height="3.40" fill="#000"/>
<rect x="887.30" y="1645.00" width="3.40" height="551.40" fill="#000"/>
<rect x="878.25" y="2193.10" width="581.75" height="3.40" fill="#000"/>
<rect x="878.25" y="1644.60" width="10.75" height="3.30" fill="#000"/>
<rect x="878.25" y="1713.35" width="10.75" height="3.30" fill="#000"/>
<rect x="878.25" y="1782.10" width="10.75" height="3.30" fill="#000"/>
<rect x="878.25" y="1850.85" width="10.75" height="3.30" fill="#000"/>
<rect x="878.25" y="1919.60" width="10.75" height="3.30" fill="#000"/>
<rect x="878.25" y="1987.60" width="10.75" height="3.30" fill="#000"/>
<rect x="878.25" y="2055.85" width="10.75" height="3.30" fill="#000"/>
<rect x="878.25" y="2123.85" width="10.75" height="3.30" fill="#000"/>
<rect x="878.25" y="2192.85" width="10.75" height="3.30" fill="#000"/>
<rect x="884.50" y="1679.60" width="4.50" height="3.30" fill="#000"/>
<rect x="884.50" y="1748.35" width="4.50" height="3.30" fill="#000"/>
<rect x="884.50" y="1817.10" width="4.50" height="3.30" fill="#000"/>
<rect x="884.50" y="1883.85" width="4.50" height="3.30" fill="#000"/>
<rect x="884.50" y="1952.85" width="4.50" height="3.30" fill="#000"/>
<rect x="884.50" y="2022.10" width="4.50" height="3.30" fill="#000"/>
<rect x="884.50" y="2090.35" width="4.50" height="3.30" fill="#000"/>
<rect x="884.50" y="2158.85" width="4.50" height="3.30" fill="#000"/>
<rect x="976.35" y="2194.80" width="3.30" height="6.00" fill="#000"/>
<rect x="1048.35" y="2194.80" width="3.30" height="6.00" fill="#000"/>
<rect x="1117.05" y="2194.80" width="3.30" height="6.00" fill="#000"/>
<rect x="1222.95" y="2194.80" width="3.30" height="6.00" fill="#000"/>
<rect x="1294.95" y="2194.80" width="3.30" height="6.00" fill="#000"/>
<rect x="1366.95" y="2194.80" width="3.30" height="6.00" fill="#000"/>
<text transform="translate(826.41 1665.80) scale(0.9700 1)" font-size="37.06">40</text>
<text transform="translate(826.52 1734.55) scale(0.9700 1)" font-size="37.06">35</text>
<text transform="translate(826.41 1803.30) scale(0.9700 1)" font-size="37.06">30</text>
<text transform="translate(826.52 1872.05) scale(0.9700 1)" font-size="37.06">25</text>
<text transform="translate(826.41 1940.80) scale(0.9700 1)" font-size="37.06">20</text>
<text transform="translate(826.52 2008.80) scale(0.9700 1)" font-size="37.06">15</text>
<text transform="translate(826.41 2077.05) scale(0.9700 1)" font-size="37.06">10</text>
<text transform="translate(846.51 2145.05) scale(0.9700 1)" font-size="37.06">5</text>
<text transform="translate(846.41 2214.05) scale(0.9700 1)" font-size="37.06">0</text>
<text transform="translate(966.93 2247.60) scale(0.8979 1)" font-size="43.31" font-weight="normal" fill="#000">WT</text>
<text transform="translate(1051.82 2247.60) scale(0.9513 1)" font-size="43.31" font-weight="normal" fill="#000">HT</text>
<text transform="translate(1130.19 2247.60) scale(0.9747 1)" font-size="42.68" font-weight="normal" fill="#000">KO</text>
<text transform="translate(1200.13 2243.90) scale(0.9531 1)" font-size="41.43" font-weight="normal" fill="#000">WT</text>
<text transform="translate(1285.07 2243.90) scale(0.9789 1)" font-size="41.43" font-weight="normal" fill="#000">HT</text>
<text transform="translate(1364.39 2243.90) scale(0.9875 1)" font-size="40.82" font-weight="normal" fill="#000">KO</text>
<text transform="translate(1010.47 2294.90) scale(1.0891 1)" font-size="39.47" font-weight="normal" fill="#000">Female</text>
<text transform="translate(1268.17 2292.40) scale(1.0327 1)" font-size="39.33" font-weight="normal" fill="#000">Male</text>
<text transform="translate(795.00 1973.11) rotate(-90) scale(0.9003 1)" font-size="44.25">Sniffs</text>
<path d="M995.45 1932.95L995.45 1925.12M995.45 1932.95L995.45 1940.87M995.45 1932.95L988.83 1928.29M995.45 1932.95L1001.88 1928.29M995.45 1932.95L988.83 1937.33M995.45 1932.95L1001.88 1937.33" stroke="#000" stroke-width="2.0" stroke-linecap="round" fill="none"/>
<circle cx="995.45" cy="1925.12" r="2.35" fill="#000"/>
<circle cx="995.45" cy="1940.87" r="2.35" fill="#000"/>
<circle cx="988.83" cy="1928.29" r="2.35" fill="#000"/>
<circle cx="1001.88" cy="1928.29" r="2.35" fill="#000"/>
<circle cx="988.83" cy="1937.33" r="2.35" fill="#000"/>
<circle cx="1001.88" cy="1937.33" r="2.35" fill="#000"/>
<rect x="991.91" y="1930.99" width="7.27" height="3.73" fill="#000"/>
<path d="M1066.70 1960.45L1066.70 1952.62M1066.70 1960.45L1066.70 1968.37M1066.70 1960.45L1060.08 1955.79M1066.70 1960.45L1073.13 1955.79M1066.70 1960.45L1060.08 1964.83M1066.70 1960.45L1073.13 1964.83" stroke="#000" stroke-width="2.0" stroke-linecap="round" fill="none"/>
<circle cx="1066.70" cy="1952.62" r="2.35" fill="#000"/>
<circle cx="1066.70" cy="1968.37" r="2.35" fill="#000"/>
<circle cx="1060.08" cy="1955.79" r="2.35" fill="#000"/>
<circle cx="1073.13" cy="1955.79" r="2.35" fill="#000"/>
<circle cx="1060.08" cy="1964.83" r="2.35" fill="#000"/>
<circle cx="1073.13" cy="1964.83" r="2.35" fill="#000"/>
<rect x="1063.16" y="1958.49" width="7.27" height="3.73" fill="#000"/>
<path d="M1238.95 1988.20L1238.95 1980.18M1238.95 1988.20L1238.95 1996.31M1238.95 1988.20L1232.17 1983.43M1238.95 1988.20L1245.54 1983.43M1238.95 1988.20L1232.17 1992.69M1238.95 1988.20L1245.54 1992.69" stroke="#000" stroke-width="2.0" stroke-linecap="round" fill="none"/>
<circle cx="1238.95" cy="1980.18" r="2.35" fill="#000"/>
<circle cx="1238.95" cy="1996.31" r="2.35" fill="#000"/>
<circle cx="1232.17" cy="1983.43" r="2.35" fill="#000"/>
<circle cx="1245.54" cy="1983.43" r="2.35" fill="#000"/>
<circle cx="1232.17" cy="1992.69" r="2.35" fill="#000"/>
<circle cx="1245.54" cy="1992.69" r="2.35" fill="#000"/>
<rect x="1235.32" y="1986.20" width="7.45" height="3.82" fill="#000"/>
<path d="M1310.95 1953.58L1310.95 1945.84M1310.95 1953.58L1310.95 1961.40M1310.95 1953.58L1304.41 1948.97M1310.95 1953.58L1317.30 1948.97M1310.95 1953.58L1304.41 1957.90M1310.95 1953.58L1317.30 1957.90" stroke="#000" stroke-width="2.0" stroke-linecap="round" fill="none"/>
<circle cx="1310.95" cy="1945.84" r="2.35" fill="#000"/>
<circle cx="1310.95" cy="1961.40" r="2.35" fill="#000"/>
<circle cx="1304.41" cy="1948.97" r="2.35" fill="#000"/>
<circle cx="1317.30" cy="1948.97" r="2.35" fill="#000"/>
<circle cx="1304.41" cy="1957.90" r="2.35" fill="#000"/>
<circle cx="1317.30" cy="1957.90" r="2.35" fill="#000"/>
<rect x="1307.45" y="1951.64" width="7.18" height="3.68" fill="#000"/>
<path d="M1382.70 1936.58L1382.70 1928.84M1382.70 1936.58L1382.70 1944.40M1382.70 1936.58L1376.16 1931.97M1382.70 1936.58L1389.05 1931.97M1382.70 1936.58L1376.16 1940.90M1382.70 1936.58L1389.05 1940.90" stroke="#000" stroke-width="2.0" stroke-linecap="round" fill="none"/>
<circle cx="1382.70" cy="1928.84" r="2.35" fill="#000"/>
<circle cx="1382.70" cy="1944.40" r="2.35" fill="#000"/>
<circle cx="1376.16" cy="1931.97" r="2.35" fill="#000"/>
<circle cx="1389.05" cy="1931.97" r="2.35" fill="#000"/>
<circle cx="1376.16" cy="1940.90" r="2.35" fill="#000"/>
<circle cx="1389.05" cy="1940.90" r="2.35" fill="#000"/>
<rect x="1379.20" y="1934.64" width="7.18" height="3.68" fill="#000"/>
<rect x="1105.00" y="1738.70" width="248.30" height="2.60" fill="#2a2a2a"/>
<rect x="1103.70" y="1738.70" width="2.60" height="28.30" fill="#2a2a2a"/>
<rect x="1350.70" y="1738.70" width="2.60" height="28.30" fill="#2a2a2a"/>
<path d="M1231.99 1698.97L1227.06 1725.53M1240.64 1698.97L1235.81 1725.53M1225.50 1708.97L1242.00 1708.97M1225.50 1719.24L1242.00 1719.24" stroke="#000" stroke-width="2.7" stroke-linecap="round" fill="none"/>
</svg>
</body></html>
